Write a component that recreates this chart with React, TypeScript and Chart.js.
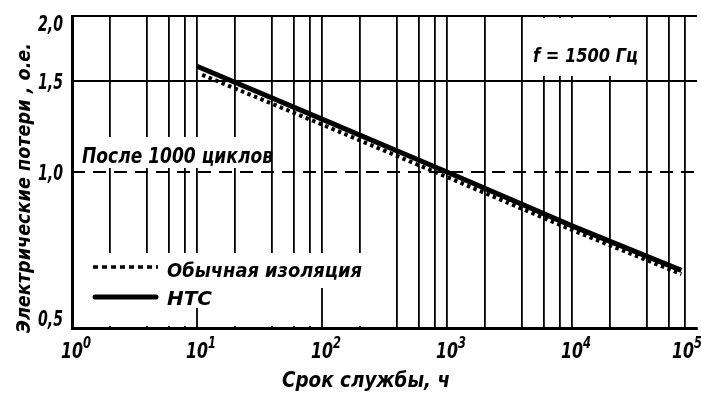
import { useEffect, useRef } from 'react';
import { Chart, registerables } from 'chart.js';

Chart.register(...registerables);

// ---- data ----
const seriesNTC = 'НТС';
const hoursNTC = [10, 100, 1000, 10000, 75000];
const lossNTC = [1.6, 1.265, 1.0, 0.787, 0.646];

const seriesUsual = 'Обычная изоляция';
const hoursUsual = [11, 100, 1000, 10000, 75000];
const lossUsual = [1.54, 1.235, 0.978, 0.773, 0.635];

const refHours = [1, 100000];
const refLoss = [1.0, 1.0];

const xGridValues = [
  1, 2, 4, 6, 8,
  10, 20, 40, 60, 80,
  100, 200, 400, 600, 800,
  1000, 2000, 4000, 6000, 8000,
  10000, 20000, 40000, 60000, 80000,
];
const xDecades = [1, 10, 100, 1000, 10000, 100000];
const xExponents = ['0', '1', '2', '3', '4', '5'];
const yTickValues = [0.5, 1.0, 1.5, 2.0];
const yTickLabels = ['0,5', '1,0', '1,5', '2,0'];

const xTitle = 'Срок службы, ч';
const yTitle = 'Электрические потери , о.е.';
const noteCycles = 'После 1000 циклов';
const noteFreq = 'f = 1500 Гц';

const FAMILY = "'Liberation Sans Narrow','DejaVu Sans Condensed','DejaVu Sans',sans-serif";
const WEIGHT = 'bold';

function fitText(
  ctx: CanvasRenderingContext2D,
  text: string,
  x: number,
  y: number,
  size: number,
  width: number,
  align: 'left' | 'right' | 'center' = 'left'
) {
  ctx.save();
  ctx.font = `italic ${WEIGHT} ${size}px ${FAMILY}`;
  ctx.textBaseline = 'alphabetic';
  ctx.textAlign = 'left';
  const w = ctx.measureText(text).width;
  const sx = width / w;
  let left = x;
  if (align === 'right') left = x - width;
  else if (align === 'center') left = x - width / 2;
  ctx.translate(left, y);
  ctx.scale(sx, 1);
  ctx.fillStyle = '#000';
  ctx.fillText(text, 0, 0);
  ctx.restore();
}

const decorPlugin = {
  id: 'decor',
  beforeDatasetsDraw(chart: any) {
    const ctx: CanvasRenderingContext2D = chart.ctx;
    const xs = chart.scales.x;
    const area = chart.chartArea;
    ctx.save();
    ctx.fillStyle = '#fff';
    // gaps in the grid behind the labels
    ctx.fillRect(area.left + 3, 137, 268 - area.left - 3, 31);
    ctx.fillRect(527, area.top + 2, 113, 76 - area.top - 2);
    ctx.fillRect(area.left + 3, 253, 366 - area.left - 3, area.bottom - 2 - 253);
    // short ticks that rise from the axis through the legend block
    ctx.strokeStyle = '#000';
    ctx.lineWidth = 1.8;
    const x10 = xs.getPixelForValue(10);
    const x100 = xs.getPixelForValue(100);
    ctx.beginPath();
    ctx.moveTo(x10, 308);
    ctx.lineTo(x10, area.bottom);
    ctx.moveTo(x100, 288);
    ctx.lineTo(x100, area.bottom);
    ctx.stroke();
    ctx.restore();
  },
  afterDraw(chart: any) {
    const ctx: CanvasRenderingContext2D = chart.ctx;
    const xs = chart.scales.x;
    const ys = chart.scales.y;
    const area = chart.chartArea;

    // y tick labels
    yTickLabels.forEach((lab, i) => {
      const py = ys.getPixelForValue(yTickValues[i]);
      let base = py + 8;
      if (i === yTickLabels.length - 1) base = py + 15;
      if (i === 0) base = py - 2;
      fitText(ctx, lab, area.left - 9, base, 21, 25, 'right');
    });

    // x tick labels: 10 with superscript exponent
    xDecades.forEach((v, i) => {
      const px = xs.getPixelForValue(v);
      let cx = px;
      if (cx + 11 > 694) cx = 694 - 11;
      fitText(ctx, '10', cx, 358, 21, 22, 'center');
      fitText(ctx, xExponents[i], cx + 11, 348, 15, 8, 'left');
    });

    // axis titles
    fitText(ctx, xTitle, 366, 387, 21, 168, 'center');
    ctx.save();
    ctx.translate(30, 188);
    ctx.rotate(-Math.PI / 2);
    fitText(ctx, yTitle, 0, 0, 20, 290, 'center');
    ctx.restore();

    // annotations
    fitText(ctx, noteCycles, 82, 163, 21, 191, 'left');
    fitText(ctx, noteFreq, 533, 62, 20, 105, 'left');

    // legend
    ctx.save();
    ctx.strokeStyle = '#000';
    ctx.lineWidth = 3.5;
    ctx.setLineDash([5, 4]);
    ctx.beginPath();
    ctx.moveTo(93, 267);
    ctx.lineTo(158, 267);
    ctx.stroke();
    ctx.setLineDash([]);
    ctx.lineWidth = 5;
    ctx.lineCap = 'round';
    ctx.beginPath();
    ctx.moveTo(95, 297);
    ctx.lineTo(156, 297);
    ctx.stroke();
    ctx.restore();
    fitText(ctx, seriesUsual, 167, 277, 20, 195, 'left');
    fitText(ctx, seriesNTC, 167, 305, 20, 45, 'left');
  },
};

export default function App() {
  const ref = useRef<HTMLCanvasElement>(null);
  useEffect(() => {
    const chart = new Chart(ref.current as HTMLCanvasElement, {
      type: 'line',
      data: {
        datasets: [
          {
            label: seriesNTC,
            data: hoursNTC.map((x, i) => ({ x, y: lossNTC[i] })),
            borderColor: '#000',
            borderWidth: 5,
            pointRadius: 0,
            borderCapStyle: 'butt',
          },
          {
            label: seriesUsual,
            data: hoursUsual.map((x, i) => ({ x, y: lossUsual[i] })),
            borderColor: '#000',
            borderWidth: 4,
            borderDash: [3.5, 3.5],
            pointRadius: 0,
          },
          {
            label: 'ref',
            data: refHours.map((x, i) => ({ x, y: refLoss[i] })),
            borderColor: '#000',
            borderWidth: 2,
            borderDash: [13, 8],
            pointRadius: 0,
          },
        ],
      },
      options: {
        animation: false,
        responsive: false,
        devicePixelRatio: 1,
        layout: { padding: { left: 72, right: 4, top: 16, bottom: 68 } },
        plugins: { legend: { display: false }, tooltip: { enabled: false } },
        scales: {
          x: {
            type: 'logarithmic',
            min: 1,
            max: 100000,
            afterBuildTicks: (s: any) => {
              s.ticks = xGridValues.map((v) => ({ value: v }));
            },
            ticks: { display: false },
            grid: { color: '#000', lineWidth: 1.8, drawTicks: false },
            border: { color: '#000', width: 3 },
          },
          y: {
            type: 'logarithmic',
            min: 0.5,
            max: 2.0,
            afterBuildTicks: (s: any) => {
              s.ticks = yTickValues.map((v) => ({ value: v }));
            },
            ticks: { display: false },
            grid: {
              color: (c: any) => (c.tick && c.tick.value === 1 ? 'rgba(0,0,0,0)' : '#000'),
              lineWidth: 2,
              drawTicks: false,
            },
            border: { color: '#000', width: 3 },
          },
        },
      } as any,
      plugins: [decorPlugin],
    });
    return () => chart.destroy();
  }, []);
  return (
    <div style={{ position: 'fixed', left: 0, top: 0, width: 701, height: 396, background: '#fff' }}>
      <canvas ref={ref} width={701} height={396} style={{ display: 'block', width: 701, height: 396 }} />
    </div>
  );
}
